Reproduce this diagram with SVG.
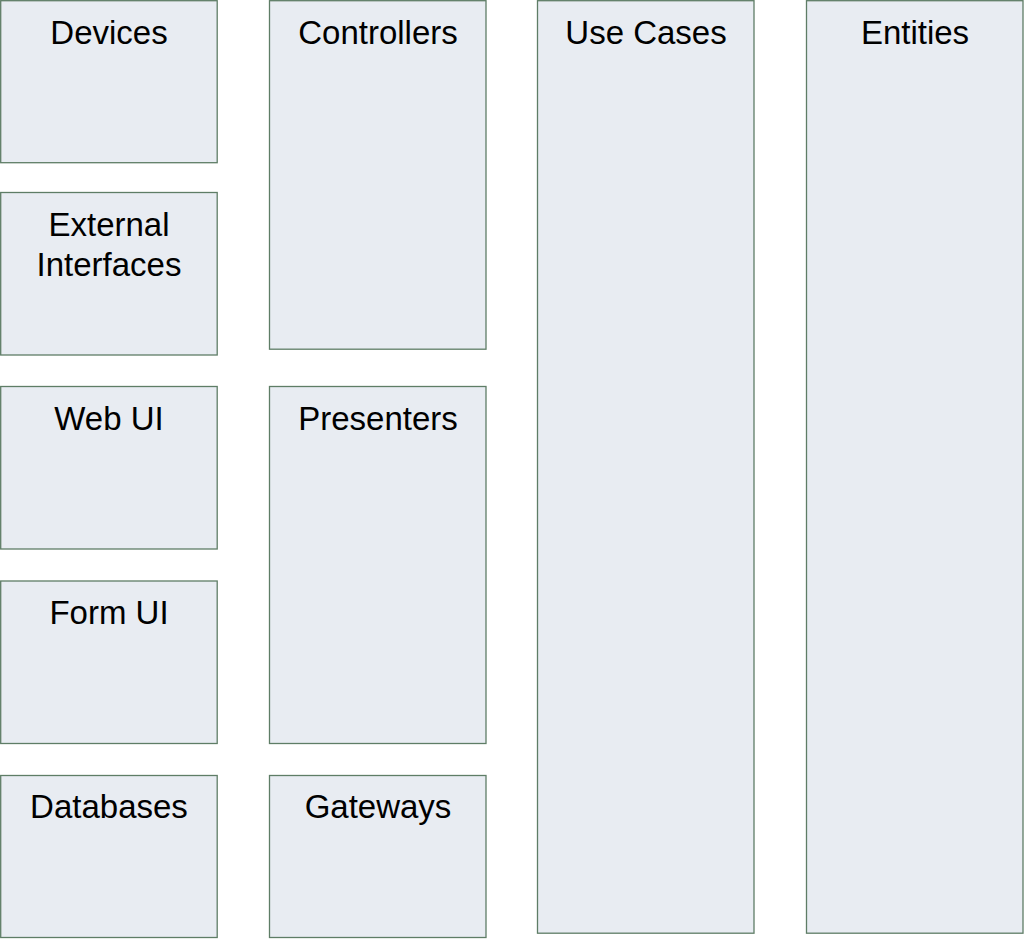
<svg xmlns="http://www.w3.org/2000/svg" width="1024" height="939" viewBox="0 0 1024 939">
<style>
.box{fill:#e8ecf2;stroke:#5e7d66;stroke-width:1.3}
.t{font-family:"Liberation Sans",Arial,sans-serif;font-size:33px;fill:#000;text-anchor:middle}
</style>
<rect width="1024" height="939" fill="#fff"/>
<g id="devices"><rect class="box" x="0.7" y="0.7" width="216.5" height="162"/><text class="t" x="109" y="44">Devices</text></g>
<g id="external-interfaces"><rect class="box" x="0.7" y="192.5" width="216.5" height="162.5"/><text class="t" x="109" y="236">External</text><text class="t" x="109" y="276">Interfaces</text></g>
<g id="web-ui"><rect class="box" x="0.7" y="386.5" width="216.5" height="162.5"/><text class="t" x="109" y="430">Web UI</text></g>
<g id="form-ui"><rect class="box" x="0.7" y="581" width="216.5" height="162.5"/><text class="t" x="109" y="624">Form UI</text></g>
<g id="databases"><rect class="box" x="0.7" y="775.5" width="216.5" height="162"/><text class="t" x="109" y="818">Databases</text></g>
<g id="controllers"><rect class="box" x="269.5" y="0.7" width="216.5" height="348.5"/><text class="t" x="378" y="44">Controllers</text></g>
<g id="presenters"><rect class="box" x="269.5" y="386.5" width="216.5" height="357"/><text class="t" x="378" y="430">Presenters</text></g>
<g id="gateways"><rect class="box" x="269.5" y="775.5" width="216.5" height="162"/><text class="t" x="378" y="818">Gateways</text></g>
<g id="use-cases"><rect class="box" x="537.5" y="0.7" width="216.5" height="932.5"/><text class="t" x="646" y="44">Use Cases</text></g>
<g id="entities"><rect class="box" x="806.5" y="0.7" width="216.5" height="932.5"/><text class="t" x="915" y="44">Entities</text></g>
<g id="connectors"></g>
</svg>
